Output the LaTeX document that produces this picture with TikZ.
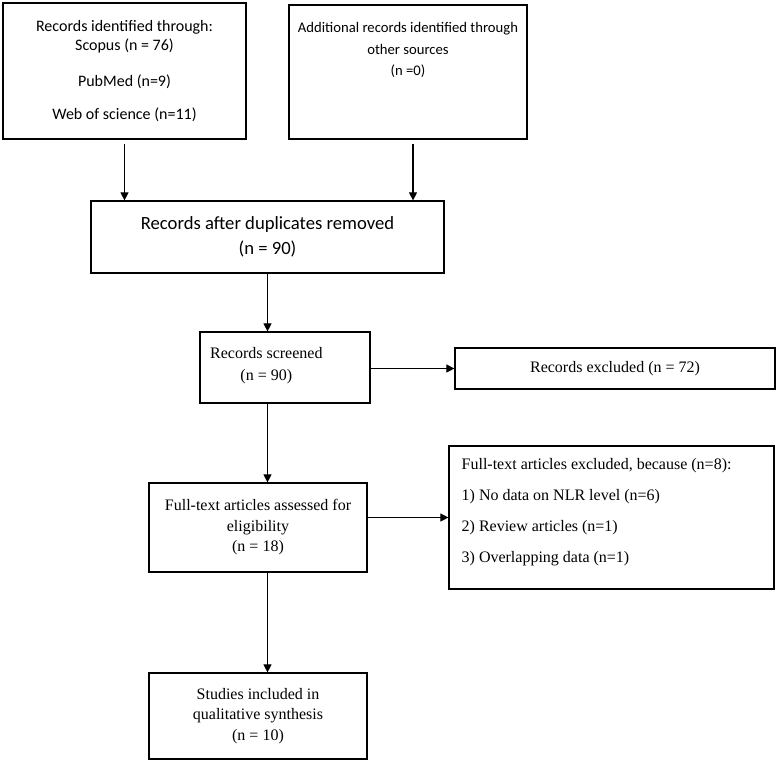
\documentclass[tikz,border=0pt]{standalone}
\usepackage{fontspec}
\setmainfont{Liberation Serif}
\newfontfamily\calibri{Carlito}
\usetikzlibrary{arrows.meta,positioning,fit}

\tikzset{
  box/.style={draw, line width=.9pt, inner sep=0pt},
  txt/.style={inner sep=0pt, align=center, font=\fontsize{12}{15.4}\selectfont},
  stxt/.style={inner sep=0pt, align=center, font=\calibri\fontsize{12}{14.5}\selectfont},
  arr/.style={line width=.8pt, -{Triangle[length=6pt,width=6pt]}}
}

\begin{document}
\begin{tikzpicture}[x=.75pt, y=-.75pt]
  \useasboundingbox (0,0) rectangle (781,764);
  % boxes
  \node[box, fit={(3,3) (246,139)}] (ident) {};
  \node[box, fit={(289,5) (527,139)}] (other) {};
  \node[box, fit={(91,201) (444,273)}] (dupl) {};
  \node[box, fit={(200,332) (370,403)}] (screen) {};
  \node[box, fit={(455,348) (775,389)}] (excl) {};
  \node[box, fit={(149,483) (367,572)}] (full) {};
  \node[box, fit={(449,446) (774,589)}] (fullexcl) {};
  \node[box, fit={(149,673) (367,759)}] (incl) {};
  % texts
  \node[stxt] (identtext) at (ident.center)
    {Records identified through:\\Scopus (n = 76)\\[12pt]PubMed (n=9)\\[10.5pt]Web of science (n=11)};
  \node[stxt, below=13.5pt of other.north, font=\calibri\fontsize{11}{16}\selectfont] (othertext)
    {Additional records identified through\\other sources\\(n =0)};
  \node[stxt, font=\calibri\fontsize{14}{18.5}\selectfont] (dupltext) at (dupl.center)
    {Records after duplicates removed\\(n = 90)};
  \node[txt, font=\fontsize{12}{16.5}\selectfont] (screentext) at ([xshift=-14pt, yshift=1.5pt]screen.center)
    {Records screened\\(n = 90)};
  \node[txt] (excltext) at (excl.center) {Records excluded (n = 72)};
  \node[txt] (fulltext) at (full.center) {Full-text articles assessed for\\eligibility\\(n = 18)};
  \node[txt, anchor=west, align=left, font=\fontsize{12}{23.3}\selectfont] (fullexcltext)
    at ([xshift=9.75pt, yshift=4pt]fullexcl.west)
    {Full-text articles excluded, because (n=8):\\1) No data on NLR level (n=6)\\2) Review articles (n=1)\\3) Overlapping data (n=1)};
  \node[txt] (incltext) at (incl.center) {Studies included in\\qualitative synthesis\\(n = 10)};
  % arrows
  \draw[arr, shorten <=3pt] (ident.south) -- (ident.south |- dupl.north);
  \draw[arr, shorten <=3pt] ([xshift=3.75pt]other.south) -- ([xshift=3.75pt]other.south |- dupl.north);
  \draw[arr] (dupl.south) -- (dupl.south |- screen.north);
  \draw[arr] (screen.east |- excl.west) -- (excl.west);
  \draw[arr] (screen.south -| dupl.south) -- (full.north -| dupl.south);
  \draw[arr] (full.east |- fullexcl.west) -- (fullexcl.west);
  \draw[arr] (full.south -| dupl.south) -- (incl.north -| dupl.south);
\end{tikzpicture}
\end{document}
